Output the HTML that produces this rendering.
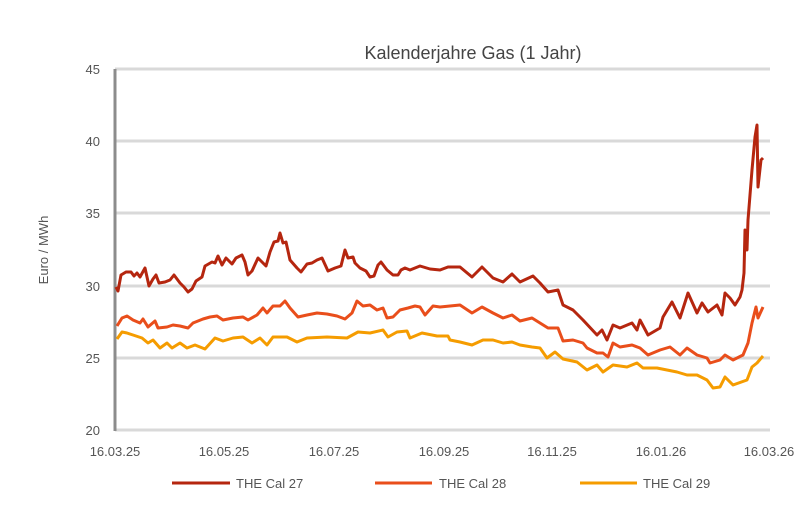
<!DOCTYPE html>
<html><head><meta charset="utf-8"><style>body{margin:0;background:#fff}svg{display:block}text{font-family:"Liberation Sans",sans-serif;fill:#555}</style></head><body>
<svg width="808" height="520" viewBox="0 0 808 520" xmlns="http://www.w3.org/2000/svg">
<text x="473" y="59" text-anchor="middle" style="font-size:18px;fill:#444">Kalenderjahre Gas (1 Jahr)</text>
<g stroke="#d9d9d9" stroke-width="3">
<line x1="115" y1="69" x2="770" y2="69"/><line x1="115" y1="141" x2="770" y2="141"/><line x1="115" y1="213" x2="770" y2="213"/><line x1="115" y1="286" x2="770" y2="286"/><line x1="115" y1="358" x2="770" y2="358"/><line x1="115" y1="430" x2="770" y2="430"/>
</g>
<line x1="115" y1="69" x2="115" y2="431" stroke="#8c8c8c" stroke-width="3"/>
<g style="font-size:13px" text-anchor="end">
<text x="100" y="74">45</text><text x="100" y="146">40</text><text x="100" y="218">35</text><text x="100" y="291">30</text><text x="100" y="363">25</text><text x="100" y="435">20</text></g>
<g style="font-size:13px" text-anchor="middle">
<text x="115" y="456">16.03.25</text><text x="224" y="456">16.05.25</text><text x="334" y="456">16.07.25</text><text x="444" y="456">16.09.25</text><text x="552" y="456">16.11.25</text><text x="661" y="456">16.01.26</text><text x="769" y="456">16.03.26</text></g>
<text transform="translate(48,250) rotate(-90)" text-anchor="middle" style="font-size:13px">Euro / MWh</text>
<g fill="none" stroke-width="3" stroke-linejoin="round">
<polyline stroke="#f59c00" points="117,339 122,332 127,333 133,335 142,338 148,343 153,340 160,348 167,343 172,348 180,343 187,348 195,345 205,349 215,338 223,341 233,338 243,337 252,343 260,338 267,345 273,337 287,337 297,342 307,338 327,337 347,338 358,332 370,333 383,330 388,337 397,332 407,331 410,338 422,333 437,336 448,336 450,340 460,342 472,345 483,340 493,340 503,343 512,342 520,345 532,347 540,348 547,358 555,352 563,359 577,362 587,370 597,365 603,372 613,365 627,367 637,363 643,368 657,368 667,370 677,372 687,375 697,375 707,380 713,388 720,387 725,377 733,385 747,380 752,367 757,363 763,356"/>
<polyline stroke="#e94e1b" points="117,326 122,318 127,316 133,320 140,323 143,319 148,327 155,321 158,328 167,327 173,325 180,326 188,328 193,323 203,319 210,317 217,316 223,320 233,318 243,317 248,320 257,315 263,308 267,313 273,306 280,306 285,301 290,308 298,317 307,315 317,313 327,314 337,316 345,319 352,313 357,301 363,306 370,305 377,310 383,308 387,318 393,317 400,310 408,308 415,306 420,307 425,315 433,306 440,307 460,305 472,313 482,307 493,313 503,318 512,315 520,321 532,318 540,323 548,328 558,328 563,341 573,340 583,343 587,348 597,353 603,353 608,357 613,343 620,347 632,345 640,348 648,355 660,350 670,347 680,355 687,348 697,355 707,358 710,363 720,360 725,355 733,360 743,355 748,343 752,323 756,307 758,318 763,307"/>
<polyline stroke="#b5260f" points="116,287 118,291 121,275 126,272 131,272 134,276 137,273 140,277 145,268 149,286 153,279 156,275 159,283 165,282 170,280 174,275 180,283 184,287 188,292 192,289 196,281 202,277 205,266 212,262 215,263 218,256 222,265 226,258 232,264 236,258 242,255 245,262 248,275 252,271 258,258 263,263 266,266 270,252 274,242 278,241 280,233 283,243 286,242 290,260 297,268 301,272 307,264 312,263 317,260 322,258 328,271 335,268 341,266 345,250 348,258 353,257 355,263 360,268 366,271 370,277 374,276 378,265 381,262 384,266 387,270 393,275 398,275 401,270 405,268 410,270 420,266 430,269 440,270 448,267 460,267 472,277 482,267 493,278 503,282 512,274 520,282 533,276 540,283 548,292 558,290 563,305 573,310 583,320 597,335 602,330 607,340 613,325 620,328 632,323 637,330 640,320 648,335 660,328 663,317 672,302 680,318 688,293 697,313 702,303 708,312 717,305 722,315 725,293 730,298 735,305 740,297 742,290 744,273 745,230 747,250 748,220 752,170 755,137 757,125 758,187 761,160 763,158"/>
</g>
<g stroke-width="3"><line x1="172" y1="483" x2="230" y2="483" stroke="#b5260f"/><line x1="375" y1="483" x2="432" y2="483" stroke="#e94e1b"/><line x1="580" y1="483" x2="637" y2="483" stroke="#f59c00"/></g>
<g style="font-size:13px"><text x="236" y="488">THE Cal 27</text><text x="439" y="488">THE Cal 28</text><text x="643" y="488">THE Cal 29</text></g>
</svg>
</body></html>
